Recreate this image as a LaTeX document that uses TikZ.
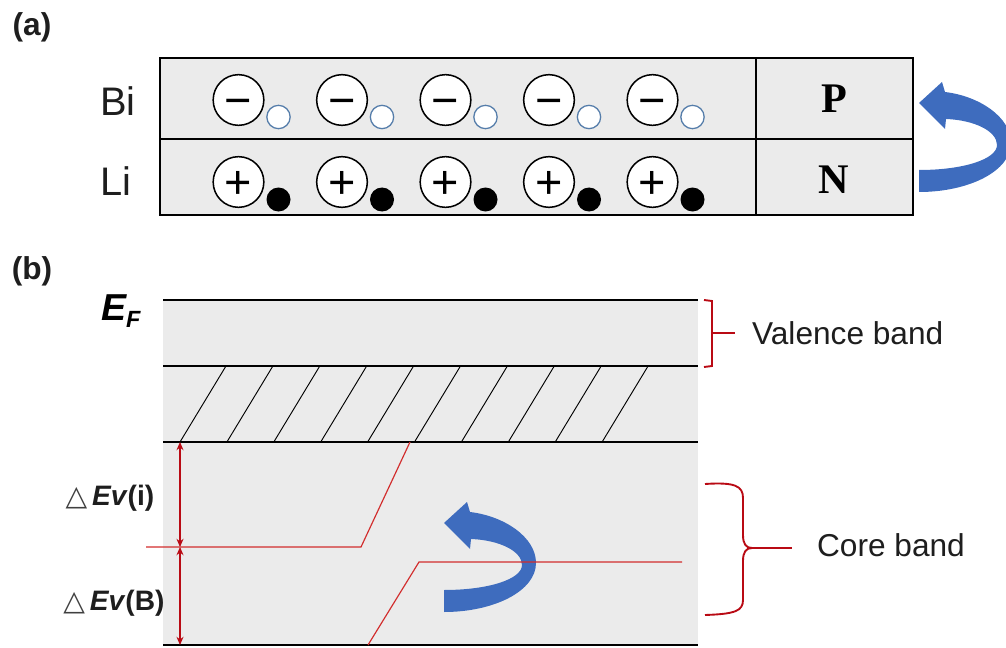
\documentclass[tikz,border=0pt]{standalone}
\usepackage{fontspec}
\setmainfont{Liberation Sans}
\newfontfamily\serifbold{Liberation Serif}
\newfontfamily\symfont{DejaVu Sans}
\usetikzlibrary{positioning,arrows.meta}

\definecolor{bandgray}{RGB}{235,235,235}
\definecolor{bandred}{RGB}{185,10,20}
\definecolor{linered}{RGB}{210,45,45}
\definecolor{turnblue}{RGB}{62,108,190}
\definecolor{holeblue}{RGB}{85,125,170}
\definecolor{labeltext}{RGB}{30,30,30}

\begin{document}
\begin{tikzpicture}[x=0.03cm, y=-0.03cm, >={Stealth[length=7pt,width=6pt]},
  ion/.style={circle, draw=black, fill=white, line width=1.3pt, minimum size=1.52cm,
    inner sep=0pt, font=\fontsize{40}{40}\selectfont, text height=28pt, text depth=0pt},
  hole/.style={circle, draw=holeblue, fill=white, line width=1.1pt, minimum size=0.7cm, inner sep=0pt},
  electron/.style={circle, fill=black, minimum size=0.72cm, inner sep=0pt},
  row label/.style={anchor=west, text=labeltext, font=\fontsize{34}{34}\selectfont},
  type label/.style={font=\fontsize{36}{36}\selectfont\serifbold\bfseries},
  panel label/.style={text=labeltext, font=\fontsize{27}{27}\selectfont\bfseries},
  band label/.style={anchor=west, text=labeltext, font=\fontsize{27}{27}\selectfont},
  gap label/.style={text=labeltext, font=\fontsize{24}{24}\selectfont\bfseries},
  band line/.style={line width=1.2pt},
  red line/.style={linered, line width=1pt},
  brace line/.style={bandred, line width=1.6pt},
  turn arrow/.pic={
    \fill[turnblue] (0,0) -- (23,-21) -- (26,-11)
      .. controls (60,-7) and (92,14) .. (92,40)
      .. controls (92,68) and (50,89) .. (0,89) -- (0,67)
      .. controls (45,67) and (78,56) .. (78,42)
      .. controls (78,28) and (55,17) .. (27,16) -- (26,26) -- cycle;
  }]

\useasboundingbox (0,0) rectangle (1006,648);

% (a) bảng Bi / Li
\node[panel label] (lab-a) at (32,27) {(a)};
\draw[band line, fill=bandgray] (160,58) rectangle (913,215);
\draw[band line] (160,139) -- (913,139);
\draw[band line] (756,58) -- (756,215);

\node[row label] (bi) at (96,101) {Bi};
\node[row label] (li) at (96,181) {Li};

\foreach \x [count=\i] in {238.5,342,445.5,549,652.5} {
  \node[ion] (minus-\i) at (\x,100) {−};
  \node[hole] (hole-\i) at (\x+40,117) {};
  \node[ion] (plus-\i) at (\x,182) {+};
  \node[electron] (elec-\i) at (\x+40,199.5) {};
}

\node[type label] (p-type) at (834,99) {P};
\node[type label] (n-type) at (834,180) {N};

\pic (turn-a) at (919,103) {turn arrow};

% (b) giản đồ vùng năng lượng
\node[panel label] (lab-b) at (32,271) {(b)};
\fill[bandgray] (163,300) rectangle (698,645);

\coordinate (ef-left) at (163,300);
\coordinate (ef-right) at (698,300);
\coordinate (vb-left) at (163,366);
\coordinate (vb-right) at (698,366);
\coordinate (cb-left) at (163,442);
\coordinate (cb-right) at (698,442);
\coordinate (bot-left) at (163,645);
\coordinate (bot-right) at (698,645);

\foreach \i in {0,...,9}
  \draw[line width=0.8pt] (180+46.9*\i,442) -- (226+46.9*\i,366);

\draw[band line] (ef-left) -- (ef-right);
\draw[band line] (vb-left) -- (vb-right);
\draw[band line] (cb-left) -- (cb-right);
\draw[band line] (bot-left) -- (bot-right);

\node[anchor=base west, text=black, font=\fontsize{32}{32}\selectfont\bfseries\itshape] (ef)
  at (97,320) {E\raisebox{-6pt}{\fontsize{20}{20}\selectfont F}};

\pic (turn-b) at (444,523) {turn arrow};

% các mức lõi
\draw[red line] (146,547) -- (361,547) -- (410,442);
\draw[red line] (368,645) -- (419,562) -- (682,562);

\coordinate (de-top) at (180,442);
\coordinate (de-mid) at (180,547);
\coordinate (de-bot) at (180,645);
\draw[bandred, line width=1.2pt, <->] (de-top) -- (de-mid);
\draw[bandred, line width=1.2pt, <->] (de-mid) -- (de-bot);

\node[gap label] (de-i) at (110,498) {{\mdseries\symfont\color{darkgray}△}\,\textit{Ev}(i)};
\node[gap label] (de-b) at (114,603) {{\mdseries\symfont\color{darkgray}△}\,\textit{Ev}(B)};

% chú thích vùng
\draw[brace line] (704,300) -- (712,301) -- (712,366) -- (704,367);
\draw[brace line] (712,333) -- (735,333);
\node[band label] (valence) at (748,333) {Valence band};

\draw[brace line] (705,484) .. controls (735,482) and (743,486) .. (743,498) -- (743,535)
  .. controls (743,544) and (746,548) .. (752,548)
  .. controls (746,548) and (743,552) .. (743,561) -- (743,600)
  .. controls (743,611) and (735,614) .. (705,615);
\draw[brace line] (752,548) -- (792,548);
\node[band label] (core) at (813,545) {Core band};

\end{tikzpicture}
\end{document}
